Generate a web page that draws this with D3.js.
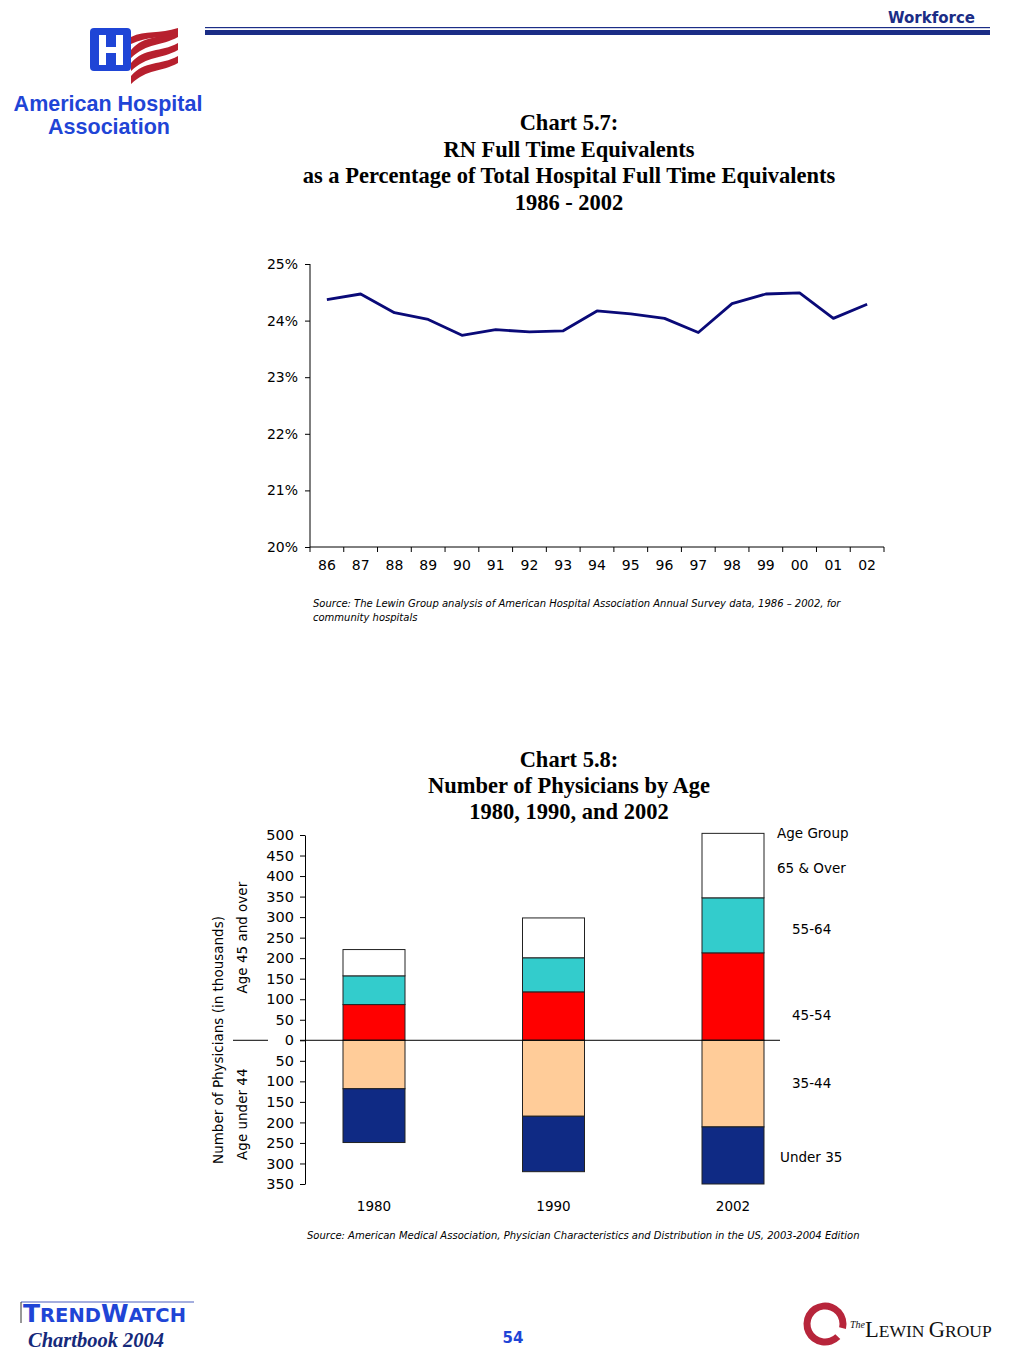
<!DOCTYPE html>
<html>
<head>
<meta charset="utf-8">
<script src="https://cdn.jsdelivr.net/npm/d3@7"></script>
<style>
  body { margin: 0; background: #fff; }
  svg { display: block; }
  .axis path, .axis line { stroke: #000; }
  .axis text { font-family: "DejaVu Sans", Verdana, sans-serif; font-size: 13.5px; fill: #000; }
  .title { font-family: "Liberation Serif", "Times New Roman", serif; font-weight: bold; font-size: 22.5px; text-anchor: middle; }
  .source { font-family: "DejaVu Sans", Verdana, sans-serif; font-style: italic; font-size: 10px; }
  .lbl { font-family: "DejaVu Sans", Verdana, sans-serif; font-size: 13.5px; }
</style>
</head>
<body>
<div id="page"></div>
<script>
// Chart 5.7 data
const rnYears = ["86", "87", "88", "89", "90", "91", "92", "93", "94", "95", "96", "97", "98", "99", "00", "01", "02"];
const rnShare = [24.37, 24.47, 24.14, 24.02, 23.74, 23.84, 23.80, 23.82, 24.17, 24.12, 24.04, 23.79, 24.30, 24.47, 24.49, 24.04, 24.29];
const rnTicks = [20, 21, 22, 23, 24, 25];

// Chart 5.8 data (thousands)
const physYears = ["1980", "1990", "2002"];
const age4554 = [87, 118, 213];
const age5564 = [70, 83, 134];
const age65Over = [64, 97, 157];
const age3544 = [118, 185, 211];
const ageUnder35 = [131, 135, 139];
const physTicks = [-350, -300, -250, -200, -150, -100, -50, 0, 50, 100, 150, 200, 250, 300, 350, 400, 450, 500];

const W = 1024, H = 1365;
const svg = d3.select("#page").append("svg").attr("width", W).attr("height", H);

// ---------- header ----------
const navy = "#1b2d86";
svg.append("text").text("Workforce")
  .attr("x", 975).attr("y", 23).attr("text-anchor", "end")
  .style("font-family", "DejaVu Sans, Verdana, sans-serif").style("font-weight", "bold")
  .style("font-size", "15px").style("fill", navy);
svg.append("rect").attr("x", 205).attr("y", 27).attr("width", 785).attr("height", 1.2).attr("fill", navy);
svg.append("rect").attr("x", 205).attr("y", 30).attr("width", 785).attr("height", 5).attr("fill", navy);

// AHA logo
const logo = svg.append("g");
logo.append("rect").attr("x", 90).attr("y", 28).attr("width", 41).attr("height", 43).attr("rx", 4).attr("fill", "#1f45d6");
logo.append("path").attr("fill", "#fff")
  .attr("d", "M99,35h7v12h10v-12h7v30h-7v-12h-10v12h-7z");
[0, 13, 26].forEach(off => {
  logo.append("path").attr("fill", "#b7202e")
    .attr("d", `M131,${50 + off} C145,${34 + off} 160,${40 + off} 178,${30 + off} l0,7 C160,${47 + off} 148,${42 + off} 131,${58 + off}z`);
});
logo.append("path").attr("fill", "#b7202e").attr("d", "M131,37 C145,30 160,34 178,28 l0,5 C160,39 148,36 131,44z");
logo.append("text").text("American Hospital").attr("x", 108).attr("y", 111).attr("text-anchor", "middle")
  .style("font-family", "Liberation Sans, Arial, sans-serif").style("font-weight", "bold")
  .style("font-size", "21.5px").style("fill", "#1f45d6");
logo.append("text").text("Association").attr("x", 109).attr("y", 134).attr("text-anchor", "middle")
  .style("font-family", "Liberation Sans, Arial, sans-serif").style("font-weight", "bold")
  .style("font-size", "21.5px").style("fill", "#1f45d6");

// ---------- Chart 5.7 ----------
["Chart 5.7:", "RN Full Time Equivalents", "as a Percentage of Total Hospital Full Time Equivalents", "1986 - 2002"]
  .forEach((t, i) => svg.append("text").attr("class", "title").attr("x", 569).attr("y", 130 + i * 26.5).text(t));

const x1 = d3.scaleBand().domain(rnYears).range([310, 884]);
const y1 = d3.scaleLinear().domain([20, 25]).range([547, 264]);

svg.append("g").attr("class", "axis").attr("transform", "translate(310,0)")
  .call(d3.axisLeft(y1).tickValues(rnTicks).tickFormat(d => d + "%").tickSize(5).tickSizeOuter(0))
  .call(g => g.select(".domain").attr("d", `M0,${y1(25)}V${y1(20)}`))
  .call(g => g.selectAll("text").attr("x", -12).style("font-size", "14px"));

const xAx = svg.append("g").attr("class", "axis").attr("transform", `translate(0,${y1(20)})`)
  .call(d3.axisBottom(x1).tickSize(0).tickPadding(13));
xAx.selectAll("text").style("font-size", "14px");
xAx.select(".domain").attr("d", "M310,0H884");
xAx.selectAll(".bnd").data(rnYears.concat(["end"])).enter().append("line")
  .attr("x1", (d, i) => i < rnYears.length ? x1(d) : x1.range()[1])
  .attr("x2", (d, i) => i < rnYears.length ? x1(d) : x1.range()[1])
  .attr("y1", 0).attr("y2", 5).attr("stroke", "#000");

svg.append("path").datum(rnShare)
  .attr("fill", "none").attr("stroke", "#0a0a78").attr("stroke-width", 2.8).attr("stroke-linejoin", "round")
  .attr("d", d3.line().x((d, i) => x1(rnYears[i]) + x1.bandwidth() / 2).y(d => y1(d)));

svg.append("text").attr("class", "source").attr("x", 313).attr("y", 607)
  .text("Source: The Lewin Group analysis of American Hospital Association Annual Survey data, 1986 \u2013 2002, for");
svg.append("text").attr("class", "source").attr("x", 313).attr("y", 621).text("community hospitals");

// ---------- Chart 5.8 ----------
["Chart 5.8:", "Number of Physicians by Age", "1980, 1990, and 2002"]
  .forEach((t, i) => svg.append("text").attr("class", "title").attr("x", 569).attr("y", 767 + i * 26).text(t));

const x2 = d3.scalePoint().domain(physYears).range([374, 733]);
const y2 = d3.scaleLinear().domain([-350, 500]).range([1184, 835]);
const barW = 62;

const upRows = physYears.map((yr, i) => ({ yr, a: age4554[i], b: age5564[i], c: age65Over[i] }));
const dnRows = physYears.map((yr, i) => ({ yr, a: age3544[i], b: ageUnder35[i] }));
const upStack = d3.stack().keys(["a", "b", "c"])(upRows);
const dnStack = d3.stack().keys(["a", "b"])(dnRows);
const upColors = ["#ff0000", "#33cccc", "#ffffff"];
const dnColors = ["#ffcc99", "#0f2a84"];

svg.append("g").attr("class", "axis").attr("transform", "translate(305,0)")
  .call(d3.axisLeft(y2).tickValues(physTicks).tickFormat(d => Math.abs(d)).tickSize(5).tickSizeOuter(0))
  .call(g => g.selectAll("text").style("font-size", "14.5px").attr("x", -11));

upStack.forEach((layer, k) => {
  svg.append("g").selectAll("rect").data(layer).enter().append("rect")
    .attr("x", d => x2(d.data.yr) - barW / 2).attr("width", barW)
    .attr("y", d => y2(d[1])).attr("height", d => y2(d[0]) - y2(d[1]))
    .attr("fill", upColors[k]).attr("stroke", "#222").attr("stroke-width", 1);
});
dnStack.forEach((layer, k) => {
  svg.append("g").selectAll("rect").data(layer).enter().append("rect")
    .attr("x", d => x2(d.data.yr) - barW / 2).attr("width", barW)
    .attr("y", d => y2(-d[0])).attr("height", d => y2(-d[1]) - y2(-d[0]))
    .attr("fill", dnColors[k]).attr("stroke", "#222").attr("stroke-width", 1);
});

// zero line
svg.append("line").attr("x1", 300).attr("x2", 780).attr("y1", y2(0)).attr("y2", y2(0)).attr("stroke", "#000");
svg.append("line").attr("x1", 233).attr("x2", 268).attr("y1", y2(0)).attr("y2", y2(0)).attr("stroke", "#000");

// x labels
svg.append("g").selectAll("text").data(physYears).enter().append("text")
  .attr("class", "lbl").attr("x", d => x2(d)).attr("y", 1211).attr("text-anchor", "middle").text(d => d);

// rotated axis titles
svg.append("text").attr("class", "lbl").attr("text-anchor", "middle")
  .attr("transform", "translate(223,1040) rotate(-90)").text("Number of Physicians (in thousands)");
svg.append("text").attr("class", "lbl").attr("text-anchor", "middle")
  .attr("transform", `translate(247,${y2(250)}) rotate(-90)`).text("Age 45 and over");
svg.append("text").attr("class", "lbl").attr("text-anchor", "middle")
  .attr("transform", `translate(247,${y2(-180)}) rotate(-90)`).text("Age under 44");

// legend labels
const legendItems = [
  { t: "Age Group", x: 777, y: 838 },
  { t: "65 & Over", x: 777, y: 873 },
  { t: "55-64", x: 792, y: 934 },
  { t: "45-54", x: 792, y: 1020 },
  { t: "35-44", x: 792, y: 1088 },
  { t: "Under 35", x: 780, y: 1162 }
];
svg.append("g").selectAll("text").data(legendItems).enter().append("text")
  .attr("class", "lbl").attr("x", d => d.x).attr("y", d => d.y).text(d => d.t);

svg.append("text").attr("class", "source").attr("x", 307).attr("y", 1239)
  .text("Source: American Medical Association, Physician Characteristics and Distribution in the US, 2003-2004 Edition");

// ---------- footer ----------
const tw = svg.append("g");
tw.append("line").attr("x1", 21).attr("x2", 194).attr("y1", 1302).attr("y2", 1302).attr("stroke", "#4a5fbf").attr("stroke-width", 1.2);
tw.append("line").attr("x1", 21).attr("x2", 21).attr("y1", 1302).attr("y2", 1323).attr("stroke", "#333").attr("stroke-width", 1);
const twText = tw.append("text").attr("x", 23).attr("y", 1322)
  .style("font-family", "DejaVu Sans, Verdana, sans-serif").style("font-weight", "bold").style("fill", "#1f45d6");
twText.append("tspan").style("font-size", "25px").text("T");
twText.append("tspan").style("font-size", "19.5px").text("REND");
twText.append("tspan").style("font-size", "25px").text("W");
twText.append("tspan").style("font-size", "19.5px").text("ATCH");
tw.append("text").attr("x", 28).attr("y", 1347).text("Chartbook 2004")
  .style("font-family", "Liberation Serif, Times New Roman, serif").style("font-style", "italic")
  .style("font-weight", "bold").style("font-size", "20.5px").style("fill", "#15297a");

svg.append("text").attr("x", 513).attr("y", 1343).attr("text-anchor", "middle").text("54")
  .style("font-family", "DejaVu Sans, Verdana, sans-serif").style("font-weight", "bold")
  .style("font-size", "15px").style("fill", "#1f45d6");

const lg = svg.append("g");
lg.append("path").attr("fill", "#b7253b")
  .attr("d", d3.arc().innerRadius(14.5).outerRadius(21.5).startAngle(2.35).endAngle(2.35 + 2 * Math.PI - 0.55)())
  .attr("transform", "translate(825,1324)");
const lgText = lg.append("text").attr("x", 850).attr("y", 1337)
  .style("font-family", "Liberation Serif, Times New Roman, serif").style("fill", "#111");
lgText.append("tspan").attr("dy", -9).style("font-size", "10px").style("font-style", "italic").text("The");
lgText.append("tspan").attr("dy", 9).style("font-size", "22.5px").text("L");
lgText.append("tspan").style("font-size", "17.5px").text("EWIN ");
lgText.append("tspan").style("font-size", "22.5px").text("G");
lgText.append("tspan").style("font-size", "17.5px").text("ROUP");
</script>
</body>
</html>
